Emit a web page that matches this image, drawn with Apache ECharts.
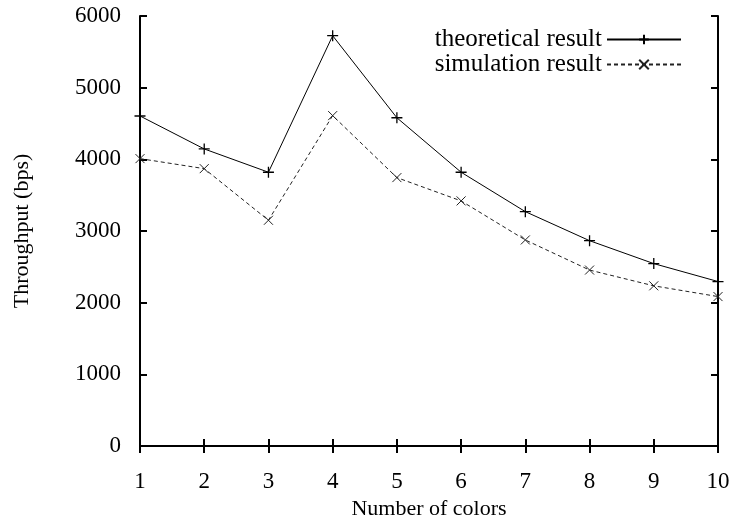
<!DOCTYPE html>
<html><head><meta charset="utf-8">
<script src="https://cdn.jsdelivr.net/npm/echarts@6/dist/echarts.min.js"></script>
<style>html,body{margin:0;padding:0;background:#fff}#c{width:735px;height:521px}</style>
</head><body><div id="c"></div>
<script>
var colors = [1, 2, 3, 4, 5, 6, 7, 8, 9, 10];
var theoretical = [4605, 4145, 3820, 5725, 4580, 3820, 3270, 2865, 2545, 2295];
var simulation = [4010, 3870, 3150, 4610, 3745, 3420, 2875, 2455, 2235, 2085];
var seriesNames = ['theoretical result', 'simulation result'];

var FONT = 'Liberation Serif';
function pairs(v){ return colors.map(function(c,i){ return [c, v[i]]; }); }
var plusPath = 'path://M0,-5L0,5M-5,0L5,0';
var crossPath = 'path://M-4,-4L4,4M-4,4L4,-4';
var axisLineStyle = {show:true, lineStyle:{color:'#000', width:2}};
var tick = {show:true, inside:true, length:7, lineStyle:{color:'#000', width:2}};

var chart = echarts.init(document.getElementById('c'), null, {renderer:'canvas'});
chart.setOption({
  animation:false,
  backgroundColor:'#fff',
  grid:{left:140, right:17, top:16, bottom:75, outerBoundsMode:'none', containLabel:false},
  legend:{
    right:48, top:22, orient:'vertical', align:'right',
    itemWidth:74, itemHeight:12, itemGap:0,
    textStyle:{fontFamily:FONT, fontSize:25, color:'#000'},
    data:[{name:seriesNames[0]},{name:seriesNames[1]}]
  },
  xAxis:[{
    type:'value', min:1, max:10, interval:1, position:'bottom',
    name:'Number of colors', nameLocation:'middle', nameGap:50,
    nameTextStyle:{fontFamily:FONT, fontSize:22, color:'#000'},
    axisLine:axisLineStyle, axisTick:tick, splitLine:{show:false},
    axisLabel:{fontFamily:FONT, fontSize:23, color:'#000', margin:24}
  },{
    type:'value', min:1, max:10, interval:1, position:'top',
    axisLine:axisLineStyle, axisTick:tick, splitLine:{show:false}, axisLabel:{show:false}
  }],
  yAxis:[{
    type:'value', min:0, max:6000, interval:1000, position:'left',
    name:'Throughput (bps)', nameLocation:'middle', nameGap:107,
    nameTextStyle:{fontFamily:FONT, fontSize:22, color:'#000'},
    axisLine:axisLineStyle, axisTick:tick, splitLine:{show:false},
    axisLabel:{fontFamily:FONT, fontSize:23, color:'#000', margin:19,
      formatter:function(v){ return String(v); }}
  },{
    type:'value', min:0, max:6000, interval:1000, position:'right',
    axisLine:axisLineStyle, axisTick:tick, splitLine:{show:false}, axisLabel:{show:false}
  }],
  series:[{
    name:seriesNames[0], type:'line', data:pairs(theoretical),
    symbol:plusPath, symbolSize:11, showSymbol:true,
    lineStyle:{color:'#000', width:1},
    itemStyle:{color:'#000', borderColor:'#000', borderWidth:1.3}
  },{
    name:seriesNames[1], type:'line', data:pairs(simulation),
    symbol:crossPath, symbolSize:9, showSymbol:true,
    lineStyle:{color:'#222', width:1, type:[4,3]},
    itemStyle:{color:'#222', borderColor:'#222', borderWidth:1}
  }]
});
</script></body></html>
